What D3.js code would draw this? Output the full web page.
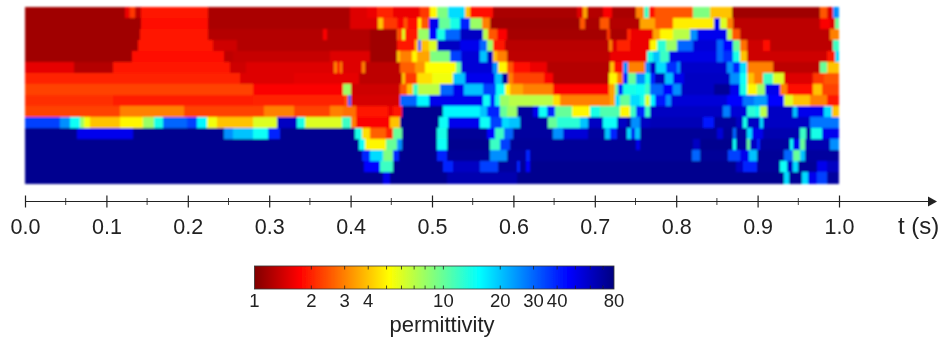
<!DOCTYPE html>
<html>
<head>
<meta charset="utf-8">
<script src="https://cdn.jsdelivr.net/npm/d3@7"></script>
<style>
html, body { margin: 0; padding: 0; background: #fff; }
svg { display: block; }
text { font-family: "Liberation Sans", Arial, sans-serif; fill: #222; }
</style>
</head>
<body>
<svg id="svg"></svg>
<script>
// each row: [end of run in ms, permittivity], top row first
const row01 = [[123,1.15],[129,1.6],[135,2.2],[142,1.3],[225,1.9],[399,1.2],[420,1.5],[432,1.6],[452,2],[485,1.6],[498,2.2],[506,5],[520,9],[541,18],[547,4],[575,1.8],[678,1.2],[686,1.5],[691,3.5],[710,1.25],[721,1.7],[751,1.2],[760,3],[767,12],[774,1.8],[821,2.5],[841,9],[868,4],[977,1.15],[985,2.5],[993,1.5],[1000,25]];
const row02 = [[142,1.15],[225,1.8],[399,1.2],[434,1.5],[440,4],[457,2.2],[465,1.7],[469,2.5],[483,1.8],[487,5],[496,2.5],[508,50],[522,10],[534,14],[547,40],[561,8],[571,3],[682,1.15],[688,2.5],[706,1.2],[717,2.5],[756,1.25],[774,3.5],[796,2.5],[846,4.8],[854,50],[862,6],[870,3],[977,1.3],[989,1.7],[995,1.5],[1000,10]];
const row03 = [[141,1.15],[225,1.9],[366,1.25],[371,1.7],[424,1.25],[457,1.15],[461,2.5],[463,1.8],[467,6],[483,1.9],[496,8],[506,45],[516,14],[534,30],[563,60],[569,7],[580,2.5],[592,1.7],[715,1.18],[719,2.2],[739,1.2],[745,2],[772,1.6],[780,3.5],[796,5],[817,7],[825,25],[862,50],[868,7],[878,2.5],[989,1.3],[1000,3]];
const row04 = [[139,1.15],[231,1.9],[260,1.4],[424,1.25],[457,1.15],[479,1.9],[483,4],[487,30],[496,4],[506,6],[534,60],[559,50],[567,30],[575,8],[590,1.9],[717,1.28],[721,3],[727,1.5],[743,2],[768,1.6],[776,5],[788,13],[801,8],[821,30],[850,55],[858,30],[870,45],[878,10],[887,2.8],[907,1.4],[915,1.8],[993,1.3],[1000,12]];
const row05 = [[131,1.15],[244,1.8],[256,1.3],[375,1.35],[424,1.5],[457,1.15],[461,4],[475,3],[481,5],[498,3.5],[522,9],[536,35],[559,55],[567,20],[575,60],[580,4],[592,3],[719,1.3],[764,1.6],[772,14],[780,20],[791,12],[850,52],[858,30],[870,38],[878,14],[887,4],[985,1.4],[995,1.9],[1000,18]];
const row06 = [[60,1.55],[108,1.25],[252,1.9],[272,1.4],[379,1.5],[383,3],[387,1.7],[389,3],[414,1.5],[418,3],[461,1.3],[479,2.6],[491,3.3],[530,5.2],[536,10],[575,55],[581,25],[592,5],[600,2.5],[620,1.8],[641,1.6],[719,1.25],[723,4],[735,1.8],[741,25],[762,3],[768,25],[775,60],[788,18],[801,38],[805,25],[862,58],[870,25],[878,40],[887,18],[919,3],[977,1.3],[985,10],[1000,4]];
const row07 = [[264,2],[330,1.5],[410,1.55],[463,1.3],[467,4],[481,2.2],[500,4.5],[526,5.5],[541,20],[577,50],[586,20],[593,70],[600,3],[637,2.3],[649,1.7],[717,1.25],[727,5],[735,3],[741,40],[751,10],[762,25],[768,14],[774,40],[786,62],[796,20],[809,50],[866,60],[878,25],[887,15],[895,4],[907,3],[919,12],[932,6],[968,1.5],[981,2.2],[1000,2.5]];
const row08 = [[280,2.3],[391,1.7],[401,8],[461,1.4],[469,2.5],[477,4],[483,12],[510,7],[526,30],[539,50],[563,20],[579,35],[590,15],[596,5],[612,3.5],[649,3],[717,1.7],[725,3.5],[729,10],[735,40],[751,14],[762,15],[768,12],[784,30],[796,45],[806,25],[846,60],[866,72],[878,50],[887,14],[899,5],[909,8],[927,50],[936,3],[968,1.8],[979,4],[1000,2.3]];
const row09 = [[108,2.1],[280,1.95],[393,2],[397,2.5],[401,30],[461,1.45],[467,30],[481,30],[496,16],[563,50],[571,15],[577,40],[584,14],[594,8],[649,7],[657,4.5],[719,3],[725,3.5],[731,18],[743,10],[755,18],[762,14],[768,6],[774,16],[788,42],[794,25],[862,55],[882,45],[895,28],[911,24],[932,45],[944,6],[964,4],[985,3],[1000,1.9]];
const row10 = [[117,2.3],[195,3],[293,2.3],[330,3],[375,2.3],[391,3],[407,2.8],[446,1.9],[452,1.6],[463,1.9],[514,75],[559,16],[567,20],[584,40],[592,10],[604,8],[624,70],[631,50],[641,15],[651,40],[672,10],[694,5],[706,14],[731,11],[743,5],[751,12],[762,40],[768,12],[858,60],[866,27],[887,55],[897,13],[903,14],[911,7],[944,60],[948,20],[981,50],[991,18],[1000,4]];
const row11 = [[43,35],[55,25],[68,15],[72,8],[80,5.5],[117,4],[145,5],[158,8],[170,14],[199,30],[211,35],[223,16],[236,5.5],[280,4],[309,6],[334,60],[344,14],[389,6],[401,12],[407,3],[448,1.7],[461,4],[508,75],[520,15],[559,50],[571,15],[586,35],[594,18],[608,20],[643,70],[653,10],[682,13],[692,20],[710,60],[727,15],[739,60],[745,70],[755,25],[768,60],[833,63],[846,42],[874,70],[882,60],[887,14],[903,60],[907,18],[964,60],[1000,28]];
const row12 = [[64,75],[133,50],[244,75],[256,25],[280,20],[299,15],[313,40],[405,75],[414,14],[424,4.5],[444,2.6],[452,2],[463,10],[506,75],[518,14],[567,72],[577,45],[588,12],[600,30],[649,70],[661,25],[692,55],[712,70],[719,20],[727,40],[739,70],[745,18],[749,50],[755,20],[850,72],[858,55],[870,72],[874,30],[887,70],[893,18],[907,50],[952,65],[960,12],[966,70],[979,14],[1000,50]];
const row13 = [[410,75],[418,15],[444,5],[457,10],[463,25],[506,75],[518,15],[571,75],[584,12],[596,35],[750,72],[755,50],[821,72],[829,60],[870,75],[874,15],[887,70],[891,10],[899,60],[903,40],[940,70],[944,15],[952,50],[958,10],[989,65],[1000,25]];
const row14 = [[414,75],[424,40],[440,18],[452,9],[459,40],[506,75],[518,40],[571,72],[592,25],[616,70],[620,40],[819,72],[829,30],[864,72],[878,35],[889,50],[899,20],[932,72],[944,30],[952,10],[958,20],[1000,70]];
const row15 = [[416,75],[436,45],[452,12],[514,75],[526,40],[559,60],[581,35],[604,70],[608,40],[616,72],[620,45],[874,75],[882,60],[899,40],[927,72],[936,15],[944,60],[950,18],[973,72],[985,50],[1000,60]];
const row16 = [[440,75],[448,50],[518,75],[604,65],[932,75],[938,18],[954,72],[962,18],[973,50],[985,35],[1000,70]];
const rows = [row01,row02,row03,row04,row05,row06,row07,row08,row09,row10,row11,row12,row13,row14,row15,row16];

const timeMajor = [0,0.1,0.2,0.3,0.4,0.5,0.6,0.7,0.8,0.9,1.0];
const timeMinor = [0.05,0.15,0.25,0.35,0.45,0.55,0.65,0.75,0.85,0.95];
const barLabels = [1,2,3,4,10,20,30,40,80];
const barTicks = [2,3,4,5,6,7,8,9,10,20,30,40,50,60,70];

const width = 947, height = 340;
const svg = d3.select("#svg").attr("width", width).attr("height", height);

// jet, reversed, on a log axis
const jetStops = [1, 1.73, 5.17, 15.5, 46.2, 80];
const jetColors = ["#800000","#ff0000","#ffff00","#00ffff","#0000ff","#000080"];
const color = d3.scaleLog().domain(jetStops).range(jetColors).interpolate(d3.interpolateRgb);

const xScale = d3.scaleLinear().domain([0, 1]).range([25, 839]);
const yScale = d3.scaleBand().domain(d3.range(rows.length)).range([6.7, 183.4]);
const barScale = d3.scaleLog().domain([1, 80]).range([254.5, 614]);

const defs = svg.append("defs");
defs.append("filter").attr("id", "soft")
	.attr("x", "-2%").attr("y", "-5%").attr("width", "104%").attr("height", "110%")
	.append("feGaussianBlur").attr("stdDeviation", "1 0.8");
defs.append("filter").attr("id", "softText")
	.append("feGaussianBlur").attr("stdDeviation", 0.35);
const gradient = defs.append("linearGradient").attr("id", "jet");
d3.range(0, 1.001, 0.125).forEach(p => {
	const v = barScale.invert(254.5 + p * (614 - 254.5));
	gradient.append("stop").attr("offset", p).attr("stop-color", color(v));
});

// heatmap
const heat = svg.append("g").attr("filter", "url(#soft)").attr("shape-rendering", "crispEdges");
rows.forEach((row, i) => {
	let start = 0;
	row.forEach(run => {
		const end = run[0] / 1000;
		heat.append("rect")
			.attr("x", xScale(start))
			.attr("y", yScale(i))
			.attr("width", xScale(end) - xScale(start) + 0.4)
			.attr("height", yScale.bandwidth() + 0.4)
			.attr("fill", color(run[1]));
		start = end;
	});
});

const lay = svg.append("g").attr("filter", "url(#softText)");

// time axis
const axisY = 201.5;
const timeAxis = d3.axisBottom(xScale).tickValues(timeMajor).tickFormat(d3.format(".1f")).tickSize(12);
const ax = lay.append("g").attr("transform", `translate(0, ${axisY})`).call(timeAxis);
ax.select(".domain").remove();
ax.selectAll(".tick line").attr("y1", -6).attr("y2", 6).attr("stroke", "#222").attr("stroke-width", 1.2);
ax.selectAll(".tick text").attr("y", 17).attr("font-size", 21.5).attr("fill", "#222").style("font-family", '"Liberation Sans", Arial, sans-serif');
ax.selectAll(".minor").data(timeMinor).enter().append("line")
	.attr("x1", d => xScale(d)).attr("x2", d => xScale(d))
	.attr("y1", -3.5).attr("y2", 3.5).attr("stroke", "#444").attr("stroke-width", 1);
ax.append("line").attr("x1", xScale(0)).attr("x2", 932).attr("stroke", "#222").attr("stroke-width", 1.2);
ax.append("path").attr("d", "M928,-5L937,0L928,5Z").attr("fill", "#222");
lay.append("text").attr("x", 898).attr("y", 234).attr("font-size", 24).text("t (s)");

// colour bar
const barTop = 266, barBottom = 289;
lay.append("rect").attr("x", barScale(1)).attr("y", barTop)
	.attr("width", barScale(80) - barScale(1)).attr("height", barBottom - barTop)
	.attr("fill", "url(#jet)").attr("stroke", "#333").attr("stroke-width", 0.8);
barTicks.forEach(d => {
	lay.append("line").attr("x1", barScale(d)).attr("x2", barScale(d))
		.attr("y1", barTop).attr("y2", barTop + 3.5).attr("stroke", "#222").attr("stroke-width", 0.8);
	lay.append("line").attr("x1", barScale(d)).attr("x2", barScale(d))
		.attr("y1", barBottom - 3.5).attr("y2", barBottom).attr("stroke", "#222").attr("stroke-width", 0.8);
});
lay.selectAll(".barLabel").data(barLabels).enter().append("text")
	.attr("x", d => barScale(d)).attr("y", 307)
	.attr("text-anchor", "middle").attr("font-size", 18.5)
	.text(d => d);
lay.append("text").attr("x", 442).attr("y", 332).attr("text-anchor", "middle")
	.attr("font-size", 22).text("permittivity");
</script>
</body>
</html>
